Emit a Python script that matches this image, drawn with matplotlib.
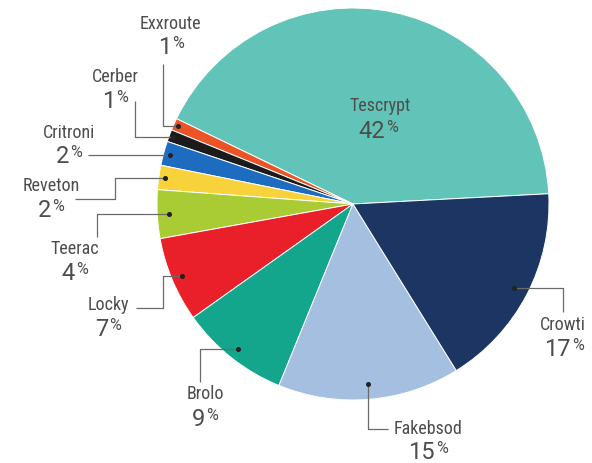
import numpy as np
import matplotlib
matplotlib.use("Agg")
import matplotlib.pyplot as plt
from matplotlib.offsetbox import TextArea, HPacker, AnnotationBbox

names = ["Tescrypt", "Exxroute", "Cerber", "Critroni", "Reveton",
         "Teerac", "Locky", "Brolo", "Fakebsod", "Crowti"]
shares = [42, 1, 1, 2, 2, 4, 7, 9, 15, 17]
colors = ["#62c4b9", "#ea5428", "#1b1b1b", "#1e6cc0", "#f7d23a",
          "#a9cb34", "#e91f2a", "#14a68d", "#a4bfe0", "#1c3562"]

# layout in pixel coordinates (y down)
CX, CY, R = 353, 205, 196
name_pos = [(380, 106), (170, 24), (115, 77), (69, 133), (51, 186),
            (75, 249), (108, 305), (205, 394), (428, 429), (563, 325)]
pct_pos = [(378, 132), (171, 47), (115, 102), (69, 157), (51, 211),
           (75, 274), (108, 330), (205, 420), (428, 453), (564, 350)]
dot_frac = [None, 0.98, 0.98, 0.965, 0.97, 0.94, 0.945, 0.945, 0.92, 0.925]
# leader waypoints from the label towards the dot; "dy" / "dx" take the dot value
leaders = [
    None,
    [(163, 65), (163, "dy")],
    [(135, 102), (135, "dy")],
    [(88, "dy")],
    [(75, 200), (115, 200), (115, "dy")],
    [(97, 238), (97, "dy")],
    [(136, 309), (163, 309), (163, "dy")],
    [(200, 383), (200, "dy")],
    [(388, 430), ("dx", 430)],
    [(563, 313), (563, "dy")],
]

FONT = ["Roboto Condensed", "Roboto", "DejaVu Sans"]
NUMFONT = ["Roboto", "DejaVu Sans"]
TXT = "#4d4d4d"
LINE = "#6a6a6a"

fig = plt.figure(figsize=(5.92, 4.64), dpi=100)
fig.patch.set_facecolor("white")
ax = fig.add_axes([0, 0, 1, 1])

wedges, _ = ax.pie(shares, colors=colors, center=(CX, CY), radius=R,
                   startangle=-3, counterclock=False,
                   wedgeprops=dict(edgecolor="white", linewidth=0.7))
ax.set_xlim(0, 592)
ax.set_ylim(464, 0)
ax.set_aspect("equal")
ax.axis("off")

for i, w in enumerate(wedges):
    nx, ny = name_pos[i]
    ax.text(nx, ny, names[i], ha="center", va="center", fontsize=13,
            color=TXT, family=FONT)
    num = TextArea(str(shares[i]), textprops=dict(fontsize=17, color=TXT,
                                                  family=NUMFONT))
    sign = TextArea("%", textprops=dict(fontsize=11.5, color=TXT, family=NUMFONT))
    pack = HPacker(children=[num, sign], align="top", pad=0, sep=1)
    ab = AnnotationBbox(pack, pct_pos[i], xycoords="data", frameon=False,
                        box_alignment=(0.5, 0.5), pad=0)
    ax.add_artist(ab)

    if leaders[i] is None:
        continue
    mid = np.deg2rad((w.theta1 + w.theta2) / 2)
    dx = CX + R * dot_frac[i] * np.cos(mid)
    dy = CY + R * dot_frac[i] * np.sin(mid)
    pts = []
    for px, py in leaders[i]:
        pts.append((dx if px == "dx" else px, dy if py == "dy" else py))
    pts.append((dx, dy))
    xs = [p[0] for p in pts]
    ys = [p[1] for p in pts]
    ax.plot(xs, ys, color=LINE, linewidth=0.9, solid_capstyle="butt")
    ax.plot([dx], [dy], "o", color="#222222", markersize=2.6)

fig.savefig("out.png", dpi=100, facecolor="white")
